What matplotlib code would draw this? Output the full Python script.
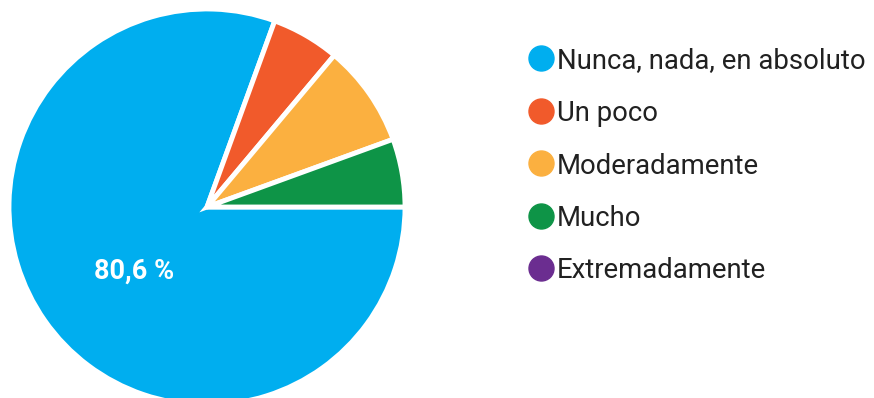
import matplotlib.pyplot as plt
from matplotlib.lines import Line2D

labels = ['Nunca, nada, en absoluto', 'Un poco', 'Moderadamente', 'Mucho', 'Extremadamente']
counts = [29, 2, 3, 2, 0]
colors = ['#00AEEF', '#F15A2B', '#FBB040', '#0E9447', '#6B2D90']

plt.rcParams['font.family'] = ['Roboto', 'DejaVu Sans']

fig = plt.figure(figsize=(8.74, 3.98), dpi=100)
ax = fig.add_axes([9 / 874, -7 / 398, 396 / 874, 396 / 398])

# only non-zero slices go in the pie, the legend keeps all of them
vals = [v for v in counts if v > 0]
cols = [c for v, c in zip(counts, colors) if v > 0]

def pct(p):
    return f'{p:.1f} %'.replace('.', ',') if p > 10 else ''

wedges, texts, autotexts = ax.pie(
    vals, colors=cols, startangle=0, counterclock=False,
    autopct=pct, pctdistance=0.5,
    wedgeprops=dict(edgecolor='white', linewidth=3.5),
    textprops=dict(color='white', fontsize=19.5, fontweight='bold'))
autotexts[0].set_position((-0.37, -0.325))  # google puts it a bit lower
ax.set_xlim(-1.0, 1.0)
ax.set_ylim(-1.0, 1.0)
ax.set_aspect('equal')
for w in wedges:
    w.set_clip_on(False)

# legend drawn by hand, one row per answer
for i, (lab, col) in enumerate(zip(labels, colors)):
    y = 1 - (58 + i * 52.5) / 398
    fig.add_artist(Line2D([541 / 874], [y], marker='o', markersize=18,
                          markerfacecolor=col, markeredgecolor=col,
                          linestyle='none', transform=fig.transFigure))
    fig.text(557 / 874, y, lab, fontsize=19.8, color='#212121',
             va='center_baseline', ha='left')

fig.savefig('out.png', dpi=100)
